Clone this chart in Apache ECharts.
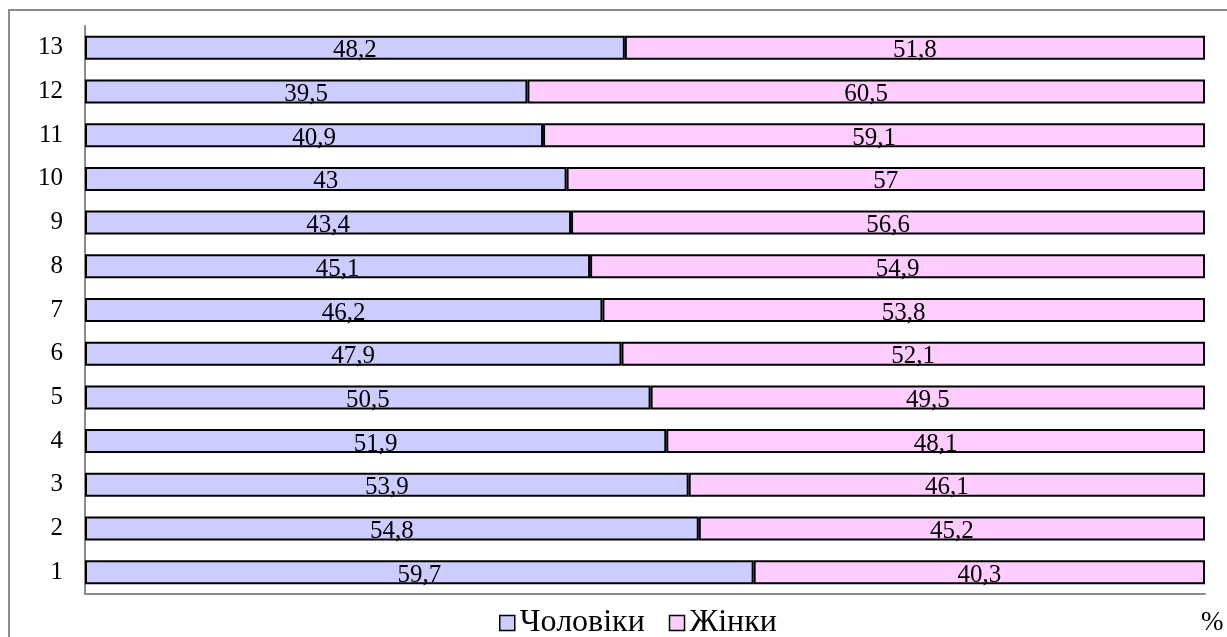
<!DOCTYPE html>
<html>
<head>
<meta charset="utf-8">
<script src="https://cdn.jsdelivr.net/npm/echarts@6/dist/echarts.min.js"></script>
<style>
  html, body { margin: 0; padding: 0; background: #fff; }
  #chart { width: 1227px; height: 637px; }
</style>
</head>
<body>
<div id="chart"></div>
<script>
// категорії знизу вгору
const categories = ['1', '2', '3', '4', '5', '6', '7', '8', '9', '10', '11', '12', '13'];
const men = [59.7, 54.8, 53.9, 51.9, 50.5, 47.9, 46.2, 45.1, 43.4, 43, 40.9, 39.5, 48.2];
const women = [40.3, 45.2, 46.1, 48.1, 49.5, 52.1, 53.8, 54.9, 56.6, 57, 59.1, 60.5, 51.8];

const font = "'Liberation Serif', 'Times New Roman', serif";
const label = {
  show: true,
  position: 'inside',
  offset: [0, 3],
  color: '#000',
  fontFamily: font,
  fontSize: 25,
  formatter: (p) => String(p.value).replace('.', ',')
};

let myChart = echarts.init(document.getElementById('chart'));
let option = {
  animation: false,
  color: ['#CCCCFF', '#FFCCFF'],
  grid: {
    left: 85,
    right: 22,
    top: 26,
    bottom: 43
  },
  legend: {
    left: 494,
    top: 602,
    icon: 'rect',
    itemWidth: 15,
    itemHeight: 15,
    itemGap: 24,
    itemStyle: { borderColor: '#000', borderWidth: 1.5 },
    textStyle: { fontFamily: font, fontSize: 32, color: '#000' },
    data: ['Чоловіки', 'Жінки']
  },
  xAxis: {
    type: 'value',
    min: 0,
    max: 100,
    axisLine: { show: true, lineStyle: { color: '#8c8c8c', width: 2 } },
    axisTick: { show: false },
    axisLabel: { show: false },
    splitLine: { show: false }
  },
  yAxis: {
    type: 'category',
    data: categories,
    axisLine: { show: true, lineStyle: { color: '#8c8c8c', width: 2 } },
    axisTick: { show: false },
    axisLabel: { color: '#000', fontFamily: font, fontSize: 25, margin: 22 }
  },
  graphic: [
    {
      type: 'rect',
      shape: { x: 9, y: 10, width: 1400, height: 800 },
      style: { fill: 'none', stroke: '#8c8c8c', lineWidth: 2 },
      silent: true
    },
    {
      type: 'text',
      left: 1201,
      top: 609,
      style: { text: '%', fontFamily: font, fontSize: 27, fill: '#000' }
    }
  ],
  series: [
    {
      name: 'Чоловіки',
      type: 'bar',
      stack: 'all',
      barWidth: 24,
      itemStyle: { borderColor: '#000', borderWidth: 2 },
      label: label,
      data: men
    },
    {
      name: 'Жінки',
      type: 'bar',
      stack: 'all',
      barWidth: 24,
      itemStyle: { borderColor: '#000', borderWidth: 2 },
      label: label,
      data: women
    }
  ]
};
myChart.setOption(option);
</script>
</body>
</html>
